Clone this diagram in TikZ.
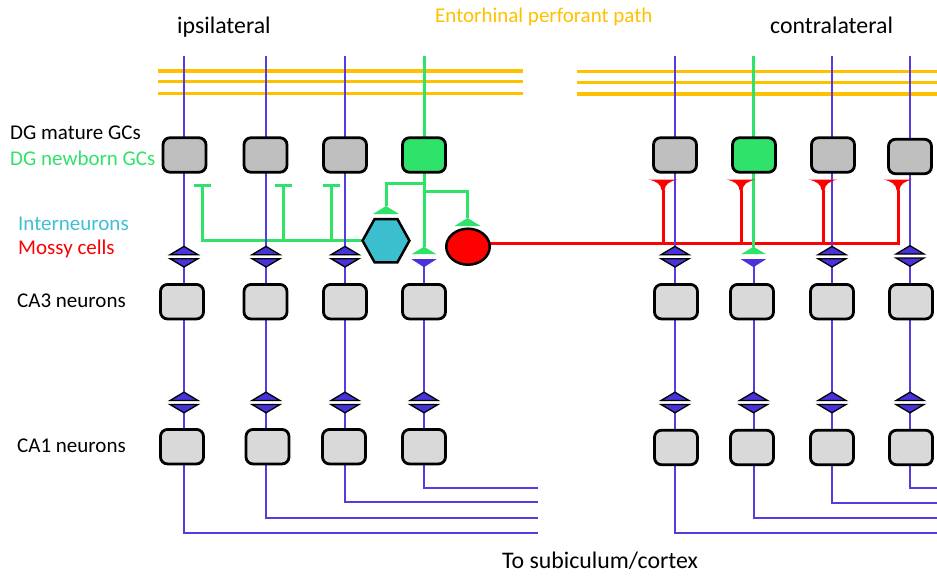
\documentclass[tikz,border=0pt]{standalone}
\usepackage{fontspec}
\setmainfont{Carlito}
\usetikzlibrary{shapes.geometric}
\pgfdeclarelayer{background}
\pgfsetlayers{background,main}
\definecolor{nblue}{RGB}{85,60,225}
\definecolor{synblue}{RGB}{72,50,220}
\definecolor{ngreen}{RGB}{46,226,106}
\definecolor{norange}{RGB}{255,192,0}
\definecolor{ncyan}{RGB}{62,192,210}
\definecolor{hexfill}{RGB}{59,190,206}
\definecolor{dggray}{RGB}{191,191,191}
\definecolor{cagray}{RGB}{217,217,217}
\tikzset{
  blueln/.style={line width=2pt, draw=nblue},
  greenln/.style={line width=3pt, draw=ngreen},
  redln/.style={line width=3pt, draw=red},
  orln/.style={line width=3.5pt, draw=norange},
  cellbox/.style={draw=black, line width=2.8pt, rounded corners=7pt, minimum width=43pt, minimum height=34.5pt, inner sep=0pt},
  dgcell/.style={cellbox, fill=dggray},
  newcell/.style={cellbox, fill=ngreen},
  cacell/.style={cellbox, fill=cagray},
  lbl/.style={inner sep=0pt, anchor=base west, font=\fontsize{21}{25}\selectfont},
  biglbl/.style={lbl, font=\fontsize{23.8}{28}\selectfont},
  syn/.pic={
    \fill[white] (-15,-2.2) rectangle (15,2.2);
    \filldraw[fill=synblue, draw=black, line width=1.3pt, line join=miter] (-14,-2) -- (0,-10.3) -- (14,-2) -- cycle;
    \filldraw[fill=synblue, draw=black, line width=1.3pt, line join=miter] (-14,2) -- (0,10.3) -- (14,2) -- cycle;
  },
  gbsyn/.pic={
    \fill[white] (-13,-2.5) rectangle (13,2.5);
    \fill[ngreen] (-12.5,-2.5) -- (0,-10) -- (12.5,-2.5) -- cycle;
    \fill[synblue] (-12.5,2.5) -- (0,10.5) -- (12.5,2.5) -- cycle;
  },
  gtri/.pic={
    \fill[ngreen] (-13,8) -- (0,0) -- (13,8) -- cycle;
  },
  redT/.pic={
    \fill[red] (-14.5,0) -- (14.5,0) .. controls (6,2) and (2,5) .. (1.5,10.5) -- (-1.5,10.5) .. controls (-2,5) and (-6,2) .. (-14.5,0) -- cycle;
  },
}
\begin{document}
\begin{tikzpicture}[x=1pt,y=-1pt]
\useasboundingbox (0,0) rectangle (937,576);

% ---------- labels ----------
\node[biglbl] (lipsi) at (177,33) {ipsilateral};
\node[lbl, text=norange] (lent) at (435,22) {Entorhinal perforant path};
\node[biglbl] (lcontra) at (770,33) {contralateral};
\node[lbl] (ldgm) at (10,139.5) {DG mature GCs};
\node[lbl, text=ngreen] (ldgn) at (10,165) {DG newborn GCs};
\node[lbl, text=ncyan] (lint) at (18,230) {Interneurons};
\node[lbl, text=red] (lmos) at (18,254) {Mossy cells};
\node[lbl] (lca3) at (17,307) {CA3 neurons};
\node[lbl] (lca1) at (17,452) {CA1 neurons};
\node[biglbl] (lout) at (502,568) {To subiculum/cortex};

% ---------- cells ----------
\node[dgcell]  (dg1) at (184.5,155) {};
\node[dgcell]  (dg2) at (265.5,155) {};
\node[dgcell]  (dg3) at (345,155) {};
\node[newcell] (dg4) at (424,155) {};
\node[dgcell]  (dg5) at (675,155) {};
\node[newcell] (dg6) at (754,155) {};
\node[dgcell]  (dg7) at (833,155) {};
\node[dgcell]  (dg8) at (910,156.5) {};

\node[cacell] (ca3a) at (182,301.7) {};
\node[cacell] (ca3b) at (265.5,301.7) {};
\node[cacell] (ca3c) at (345,301.7) {};
\node[cacell] (ca3d) at (424,301.7) {};
\node[cacell] (ca3e) at (676,301.7) {};
\node[cacell] (ca3f) at (752,301.7) {};
\node[cacell] (ca3g) at (832,301.7) {};
\node[cacell] (ca3h) at (911,301.7) {};

\node[cacell] (ca1a) at (182,446.7) {};
\node[cacell] (ca1b) at (267.5,446.7) {};
\node[cacell] (ca1c) at (344,446.7) {};
\node[cacell] (ca1d) at (424,446.7) {};
\node[cacell] (ca1e) at (676,447.5) {};
\node[cacell] (ca1f) at (752,447.5) {};
\node[cacell] (ca1g) at (832,447.5) {};
\node[cacell] (ca1h) at (911,447.5) {};

% interneuron (hexagon) and mossy cell
\node[minimum width=46.5pt, minimum height=42.8pt, inner sep=0pt] (hex) at (386,240.7) {};
\filldraw[fill=hexfill, draw=black, line width=2.5pt, line join=miter]
  (hex.west) -- ([xshift=12pt]hex.north west) -- ([xshift=-12pt]hex.north east)
  -- (hex.east) -- ([xshift=-12pt]hex.south east) -- ([xshift=12pt]hex.south west) -- cycle;
\node[ellipse, minimum width=43.5pt, minimum height=36pt, inner sep=0pt,
      draw=black, line width=2.5pt, fill=red] (mc) at (468,246.7) {};

% ---------- coordinates ----------
\coordinate (t1) at (184,56);   \coordinate (b1) at (184,533);   \coordinate (o1) at (538,533);
\coordinate (t2) at (266,56);   \coordinate (b2) at (266,518);   \coordinate (o2) at (538,518);
\coordinate (t3) at (345,56);   \coordinate (b3) at (345,501.5); \coordinate (o3) at (538,501.5);
\coordinate (t4) at (424,56);   \coordinate (g4) at (424,247);   \coordinate (s4) at (424,259);
\coordinate (b4) at (424,488);  \coordinate (o4) at (538,488);
\coordinate (t5) at (675,56);   \coordinate (b5) at (675,533);   \coordinate (o5) at (937,533);
\coordinate (t6) at (753.5,56); \coordinate (g6) at (753.5,247); \coordinate (s6) at (753.5,259);
\coordinate (b6) at (753.5,518);\coordinate (o6) at (937,518);
\coordinate (t7) at (832,56);   \coordinate (b7) at (832,502.5); \coordinate (o7) at (937,502.5);
\coordinate (t8) at (910,56);   \coordinate (b8) at (910,488);   \coordinate (o8) at (937,488);

\coordinate (ib1) at (202,185.5);
\coordinate (ib2) at (283,185.5);
\coordinate (ib3) at (331,185.5);
\coordinate (br1) at (424,183.5);
\coordinate (hxs) at (386,206);
\coordinate (br2) at (424,191);
\coordinate (mcs) at (467.5,218);
\coordinate (mce) at (488,243.5);
\coordinate (rend) at (899.5,243.5);
\coordinate (r5) at (663,190);
\coordinate (r6) at (741,190);
\coordinate (r7) at (823,190);
\coordinate (r8) at (898,190);

\begin{pgfonlayer}{background}
  % perforant path
  \draw[orln] (158,71) -- (523,71);
  \draw[orln] (158,81.7) -- (523,81.7);
  \draw[orln] (158,93.5) -- (523,93.5);
  \draw[orln] (577,71.5) -- (937,71.5);
  \draw[orln] (577,82.3) -- (937,82.3);
  \draw[orln] (577,94) -- (937,94);
  % mossy cell output
  \draw[redln] (mce) -- (rend);
  \draw[redln] (r5) -- (r5 |- rend);
  \draw[redln] (r6) -- (r6 |- rend);
  \draw[redln] (r7) -- (r7 |- rend);
  \draw[redln] (r8) -- (r8 |- rend);
  % newborn GC and interneuron
  \draw[greenln] (ib1) |- (hex.west);
  \draw[greenln] (ib2) -- (ib2 |- hex.west);
  \draw[greenln] (ib3) -- (ib3 |- hex.west);
  \draw[greenln] (ib1) ++(-8.5,0) -- ++(17,0);
  \draw[greenln] (ib2) ++(-8.5,0) -- ++(17,0);
  \draw[greenln] (ib3) ++(-8.5,0) -- ++(17,0);
  \draw[greenln] (br1) -| (hxs);
  \draw[greenln] (br2) -| (mcs);
  \draw[greenln] (t4) -- (g4);
  \draw[greenln] (t6) -- (g6);
  % principal cell axons
  \draw[blueln] (t1) -- (b1) -- (o1);
  \draw[blueln] (t2) -- (b2) -- (o2);
  \draw[blueln] (t3) -- (b3) -- (o3);
  \draw[blueln] (s4) -- (b4) -- (o4);
  \draw[blueln] (t5) -- (b5) -- (o5);
  \draw[blueln] (s6) -- (b6) -- (o6);
  \draw[blueln] (t7) -- (b7) -- (o7);
  \draw[blueln] (t8) -- (b8) -- (o8);
\end{pgfonlayer}

% ---------- synapses ----------
\pic at (184,256.7) {syn};
\pic at (266,256.7) {syn};
\pic at (345,256.7) {syn};
\pic at (424,256.7) {gbsyn};
\pic at (675,256.7) {syn};
\pic at (753.5,256.7) {gbsyn};
\pic at (832,256.7) {syn};
\pic at (910,256) {syn};

\pic at (184,402.5) {syn};
\pic at (266,402.5) {syn};
\pic at (345,402.5) {syn};
\pic at (424,402.5) {syn};
\pic at (675,402.5) {syn};
\pic at (753.5,402.5) {syn};
\pic at (832,402.5) {syn};
\pic at (910,402.5) {syn};

\pic at (hxs) {gtri};
\pic at (mcs) {gtri};

\pic at (663,179.5) {redT};
\pic at (741,179.5) {redT};
\pic at (823,179.5) {redT};
\pic at (898,179.5) {redT};
\end{tikzpicture}
\end{document}
